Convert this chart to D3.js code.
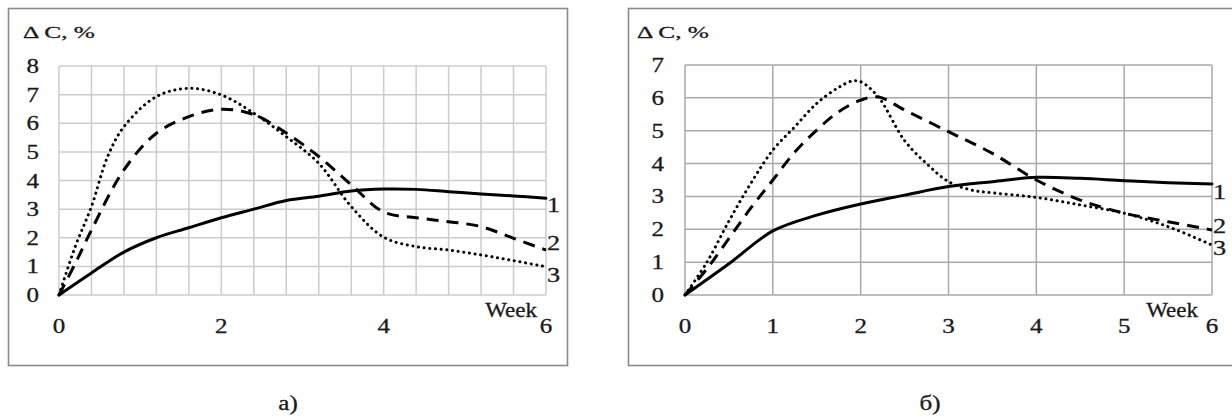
<!DOCTYPE html>
<html>
<head>
<meta charset="utf-8">
<script src="https://cdn.jsdelivr.net/npm/d3@7"></script>
<style>
  html, body { margin: 0; padding: 0; background: #fff; }
  svg { display: block; }
  text { font-family: "Liberation Serif", "Times New Roman", serif; fill: #1a1a1a; stroke: #1a1a1a; stroke-width: 0.3; }
</style>
</head>
<body>
<svg id="chart" width="1232" height="417"></svg>
<script>
// ---------- data ----------
const axisTitle = "\u0394 C, %";
const xAxisName = "Week";
const seriesLabels = ["1", "2", "3"];
const panelCaptions = ["а)", "б)"];

// panel a)
const aXTicks = [0, 2, 4, 6];
const aYTicks = [0, 1, 2, 3, 4, 5, 6, 7, 8];
const a1x = [0, 0.4, 0.8, 1.2, 1.6, 2.0, 2.4, 2.8, 3.2, 3.6, 4.0, 4.4, 4.8, 5.2, 5.6, 6.0];
const a1y = [0, 0.77, 1.5, 2.0, 2.35, 2.7, 3.0, 3.3, 3.45, 3.63, 3.7, 3.69, 3.61, 3.53, 3.46, 3.38];
const a2x = [0, 0.2, 0.4, 0.8, 1.2, 1.6, 2.0, 2.4, 2.8, 3.2, 3.6, 4.0, 4.4, 4.8, 5.2, 5.6, 6.0];
const a2y = [0, 1.1, 2.27, 4.37, 5.65, 6.23, 6.49, 6.3, 5.66, 4.84, 3.85, 2.9, 2.7, 2.56, 2.39, 1.98, 1.57];
const a3x = [0, 0.2, 0.4, 0.6, 0.8, 1.2, 1.6, 2.0, 2.4, 2.8, 3.2, 3.6, 4.0, 4.4, 4.8, 5.2, 5.6, 6.0];
const a3y = [0, 1.69, 3.09, 4.84, 5.88, 6.93, 7.22, 6.99, 6.35, 5.53, 4.6, 3.09, 2.02, 1.69, 1.57, 1.4, 1.2, 0.99];

// panel б)
const bXTicks = [0, 1, 2, 3, 4, 5, 6];
const bYTicks = [0, 1, 2, 3, 4, 5, 6, 7];
const b1x = [0, 0.5, 1, 1.5, 2, 2.5, 3, 3.5, 4, 4.5, 5, 5.5, 6];
const b1y = [0, 0.95, 1.95, 2.43, 2.77, 3.04, 3.3, 3.45, 3.58, 3.55, 3.48, 3.42, 3.38];
const b2x = [0, 0.25, 0.5, 0.75, 1, 1.25, 1.5, 1.75, 2, 2.2, 2.5, 3, 3.5, 4, 4.5, 5, 5.5, 6];
const b2y = [0, 0.8, 1.72, 2.65, 3.5, 4.35, 5.02, 5.58, 5.93, 6.03, 5.63, 4.97, 4.31, 3.5, 2.89, 2.49, 2.23, 1.98];
const b3x = [0, 0.25, 0.5, 0.75, 1, 1.25, 1.5, 1.75, 1.9, 2.0, 2.2, 2.5, 2.75, 3.0, 3.25, 3.5, 4.0, 4.5, 5.0, 5.5, 6.0];
const b3y = [0, 1.0, 2.25, 3.4, 4.41, 5.12, 5.83, 6.32, 6.51, 6.49, 6.03, 4.7, 4.0, 3.45, 3.2, 3.11, 2.97, 2.74, 2.49, 2.08, 1.52];

// ---------- drawing ----------
const svg = d3.select("#chart");

function label(g, x, y, str, size, anchor, sx) {
  g.append("text")
    .attr("transform", `translate(${x},${y}) scale(${sx || 1.25},1)`)
    .attr("text-anchor", anchor || "start")
    .style("font-size", size + "px")
    .text(str);
}

const styles = [
  { dash: null, cap: "round" },
  { dash: "12,8", cap: "butt" },
  { dash: "0.1,5.6", cap: "round" }
];

function panel(cfg) {
  const g = svg.append("g");
  g.append("rect")
    .attr("x", cfg.frame[0]).attr("y", cfg.frame[1])
    .attr("width", cfg.frame[2]).attr("height", cfg.frame[3])
    .attr("fill", "none").attr("stroke", "#8a8a8a").attr("stroke-width", 1.6);

  const x = d3.scaleLinear().domain([0, 6]).range([cfg.plot[0], cfg.plot[1]]);
  const y = d3.scaleLinear().domain([0, cfg.ymax]).range([cfg.plot[3], cfg.plot[2]]);

  const vLines = d3.range(0, 6 + 1e-9, cfg.xGridStep);
  g.append("g").selectAll("line").data(vLines).join("line")
    .attr("x1", d => x(d)).attr("x2", d => x(d))
    .attr("y1", y(0)).attr("y2", y(cfg.ymax))
    .attr("stroke", cfg.gridColor).attr("stroke-width", 1.5);
  g.append("g").selectAll("line").data(cfg.yTicks).join("line")
    .attr("x1", x(0)).attr("x2", x(6))
    .attr("y1", d => y(d)).attr("y2", d => y(d))
    .attr("stroke", cfg.gridColor).attr("stroke-width", 1.5);

  cfg.yTicks.forEach(t => label(g, cfg.yLabelX, y(t) + 7, String(t), 20, "end"));
  cfg.xTicks.forEach(t => label(g, x(t), 333, String(t), 20, "middle"));
  label(g, cfg.titleX, 38, axisTitle, 17.5, "start", 1.45);
  label(g, cfg.weekX, 317, xAxisName, 20, "end", 1.15);

  const line = d3.line().x(d => x(d[0])).y(d => y(d[1])).curve(d3.curveCatmullRom.alpha(0.5));
  cfg.series.forEach((s, i) => {
    const pts = s[0].map((v, k) => [v, s[1][k]]);
    g.append("path")
      .attr("d", line(pts))
      .attr("fill", "none")
      .attr("stroke", "#000")
      .attr("stroke-width", 3)
      .attr("stroke-linecap", styles[i].cap)
      .attr("stroke-dasharray", styles[i].dash);
  });
  cfg.seriesLabelY.forEach((yy, i) => label(g, cfg.seriesLabelX, yy, seriesLabels[i], 21, "start"));
  label(g, cfg.captionX, 410, cfg.caption, 20, "middle");
}

panel({
  frame: [8.5, 8.5, 559, 357],
  plot: [59, 546, 66, 295],
  ymax: 8,
  xGridStep: 0.4,
  gridColor: "#cccccc",
  yTicks: aYTicks,
  xTicks: aXTicks,
  yLabelX: 39,
  titleX: 23,
  weekX: 537,
  series: [[a1x, a1y], [a2x, a2y], [a3x, a3y]],
  seriesLabelX: 547,
  seriesLabelY: [212, 250, 282],
  captionX: 288,
  caption: panelCaptions[0]
});

panel({
  frame: [628.5, 8.5, 620, 357],
  plot: [685, 1212, 65, 295],
  ymax: 7,
  xGridStep: 1,
  gridColor: "#a9a9a9",
  yTicks: bYTicks,
  xTicks: bXTicks,
  yLabelX: 664,
  titleX: 637,
  weekX: 1198,
  series: [[b1x, b1y], [b2x, b2y], [b3x, b3y]],
  seriesLabelX: 1213,
  seriesLabelY: [199, 233, 255],
  captionX: 930,
  caption: panelCaptions[1]
});
</script>
</body>
</html>
